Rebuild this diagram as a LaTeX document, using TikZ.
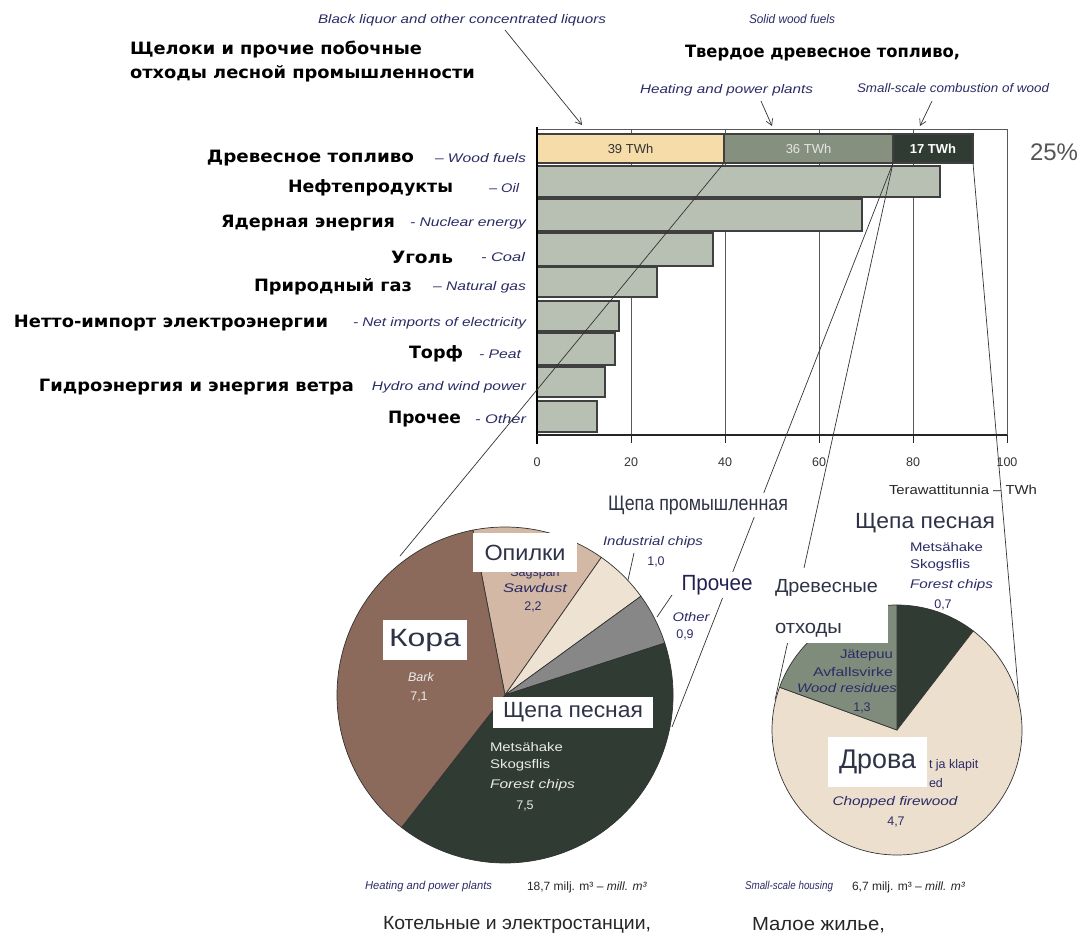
\documentclass[tikz,border=0pt]{standalone}
\usepackage{fontspec}
\usepackage{graphicx}
\usetikzlibrary{arrows.meta}
\setmainfont{Liberation Sans}
\newfontfamily\dvs{DejaVu Sans}
\newcommand\fs[1]{\fontsize{#1}{#1}\selectfont}
\newcommand\fw[2]{\resizebox{#1pt}{\height}{#2}}
\definecolor{nv}{HTML}{2B2B66}
\definecolor{tanc}{HTML}{F5DCA8}
\definecolor{sage}{HTML}{85907F}
\definecolor{dkg}{HTML}{2F3B33}
\definecolor{barc}{HTML}{B7C0B3}
\definecolor{barkc}{HTML}{8B6A5B}
\definecolor{sawc}{HTML}{D2B8A5}
\definecolor{indc}{HTML}{EEE2D3}
\definecolor{othc}{HTML}{878787}
\definecolor{firec}{HTML}{ECDFCE}
\definecolor{resc}{HTML}{7F8C7C}
\definecolor{lab}{HTML}{2E3346}
\definecolor{pct}{HTML}{555555}
\begin{document}
\begin{tikzpicture}[x=1pt,y=-1pt,
 every node/.style={inner sep=0pt,outer sep=0pt},
 ru/.style={font=\dvs\bfseries\fs{17}, anchor=east},
 ruw/.style={font=\dvs\bfseries\fs{17}, anchor=west},
 en/.style={font=\itshape\fs{12.5}, text=nv, anchor=east},
 enw/.style={font=\itshape\fs{12.5}, text=nv, anchor=west},
 seg/.style={draw=black!75, line width=1.1pt, minimum height=29pt, anchor=north west, font=\fs{13}},
 bar/.style={fill=barc, draw=black!75, line width=1.1pt},
 gridl/.style={draw=black!65, line width=0.8pt},
 conn/.style={draw=black!80, line width=0.7pt},
 arr/.style={draw=black!80, line width=0.7pt, -{Straight Barb[length=6pt,width=7pt]}},
 wbox/.style={fill=white, font=\fs{22}, text=lab},
 pl/.style={font=\fs{12.5}, text=nv},
 pli/.style={font=\itshape\fs{12.5}, text=nv},
 plw/.style={font=\fs{12.5}, text=white!92!black},
 pliw/.style={font=\itshape\fs{12.5}, text=white!92!black},
 axn/.style={font=\fs{12.5}, text=black!80},
 sl/.style={draw=black!80, line width=0.7pt}
]
\useasboundingbox (0,0) rectangle (1087,947);

% ---------- plot frame and grid
\draw[gridl] (537,129) -- (1007,129) -- (1007,442);
\foreach \x in {631,725,819,913} \draw[gridl] (\x,129) -- (\x,442);

% ---------- stacked wood fuel bar
\node[seg, fill=tanc, minimum width=187pt, text=black!80] (s39) at (537,134) {39 TWh};
\node[seg, fill=sage, minimum width=169pt, text=white!90!black] (s36) at (s39.north east) {36 TWh};
\node[seg, fill=dkg, minimum width=80pt, text=white, font=\bfseries\fs{13}] (s17) at (s36.north east) {17 TWh};

% ---------- other bars
\foreach \e/\t/\b in {940/166/197, 862/199/231, 713/233/266, 657/267/297, 619/301/331, 615/333/365, 605/367/397, 597/401/432}
  \draw[bar] (537,\t) rectangle (\e,\b);

% ---------- axes
\draw[black, line width=1.6pt] (537,127) -- (537,444);
\draw[black!85, line width=1.2pt] (537,435) -- (1007,435);
\foreach \x in {631,725,819,913,1007} \draw[black!85, line width=1pt] (\x,435) -- (\x,443);
\node[axn] (t0) at (537,462) {0};
\node[axn] (t20) at (631,462) {20};
\node[axn] (t40) at (725,462) {40};
\node[axn] (t60) at (819,462) {60};
\node[axn] (t80) at (913,462) {80};
\node[axn] (t100) at (1007,462) {100};
\node[font=\fs{13}, text=black!85, anchor=west] (unit) at (889,490) {\fw{148}{Terawattitunnia – TWh}};
\node[font=\fs{24}, text=pct, anchor=west] (p25) at (1030,152) {25\%};

% ---------- row labels
\node[ru] (r1) at (414,158) {\fw{207}{Древесное топливо}};
\node[ru] (r2) at (453,188) {\fw{165}{Нефтепродукты}};
\node[ru] (r3) at (395,223) {\fw{174}{Ядерная энергия}};
\node[ru] (r4) at (453,257) {\fw{62}{Уголь}};
\node[ru] (r5) at (412,287) {\fw{158}{Природный газ}};
\node[ru] (r6) at (328,323) {\fw{314}{Нетто-импорт электроэнергии}};
\node[ru] (r7) at (463,354) {\fw{54}{Торф}};
\node[ru] (r8) at (354,387) {\fw{315}{Гидроэнергия и энергия ветра}};
\node[ru] (r9) at (461,419) {\fw{73}{Прочее}};
\node[en] (e1) at (526,158) {\fw{91}{– Wood fuels}};
\node[en] (e2) at (519,188) {\fw{30}{– Oil}};
\node[en] (e3) at (526,223) {\fw{116}{- Nuclear energy}};
\node[en] (e4) at (525,257) {\fw{44}{- Coal}};
\node[en] (e5) at (526,287) {\fw{93}{– Natural gas}};
\node[en] (e6) at (526,323) {\fw{173}{- Net imports of electricity}};
\node[en] (e7) at (521,354) {\fw{42}{- Peat}};
\node[en] (e8) at (526,387) {\fw{154}{Hydro and wind power}};
\node[en] (e9) at (526,419) {\fw{51}{- Other}};

% ---------- top titles
\node[enw] (bl) at (318,20) {\fw{288}{Black liquor and other concentrated liquors}};
\node[enw] (sw) at (749,19) {\fw{86}{Solid wood fuels}};
\node[ruw] (ru1) at (130,50) {\fw{292}{Щелоки и прочие побочные}};
\node[ruw] (ru2) at (130,74) {\fw{345}{отходы лесной промышленности}};
\node[ruw] (tv) at (685,53) {\fw{275}{Твердое древесное топливо,}};
\node[enw] (hp) at (640,90) {\fw{173}{Heating and power plants}};
\node[enw] (sc) at (857,88) {\fw{192}{Small-scale combustion of wood}};
\coordinate (ar1a) at (505,30); \coordinate (ar1b) at (582,125);
\coordinate (ar2a) at (761,101); \coordinate (ar2b) at (772,126);
\coordinate (ar3a) at (932,101); \coordinate (ar3b) at (920,126);
\draw[arr] (ar1a) -- (ar1b);
\draw[arr] (ar2a) -- (ar2b);
\draw[arr] (ar3a) -- (ar3b);

% ---------- connectors from bar to pies
\coordinate (aL) at (400,556);
\coordinate (bL) at (672,727);
\coordinate (cR) at (775,700);
\coordinate (dR) at (1019,700);
\draw[conn] (s36.south west) -- (aL);
\draw[conn] (s36.south east) -- (bL);
\draw[conn] (s17.south west) -- (cR);
\draw[conn] (s17.south east) -- (dR);

% ---------- left pie
\coordinate (pcL) at (505,695);
\filldraw[sl, fill=sawc] (pcL) -- ++(-101:168) arc[start angle=-101, end angle=-55, radius=168] -- cycle;
\filldraw[sl, fill=indc] (pcL) -- ++(-55:168) arc[start angle=-55, end angle=-36, radius=168] -- cycle;
\filldraw[sl, fill=othc] (pcL) -- ++(-36:168) arc[start angle=-36, end angle=-18, radius=168] -- cycle;
\filldraw[sl, fill=dkg] (pcL) -- ++(-18:168) arc[start angle=-18, end angle=128, radius=168] -- cycle;
\filldraw[sl, fill=barkc] (pcL) -- ++(128:168) arc[start angle=128, end angle=259, radius=168] -- cycle;

% ---------- right pie
\coordinate (pcR) at (897,730);
\filldraw[sl, fill=dkg] (pcR) -- ++(-90:125) arc[start angle=-90, end angle=-52.4, radius=125] -- cycle;
\filldraw[sl, fill=firec] (pcR) -- ++(-52.4:125) arc[start angle=-52.4, end angle=200, radius=125] -- cycle;
\filldraw[sl, fill=resc] (pcR) -- ++(200:125) arc[start angle=200, end angle=270, radius=125] -- cycle;

% ---------- left pie labels
\node[pl] (sag) at (535,573) {Sågspån};
\node[wbox, minimum width=104pt, minimum height=39pt] (opil) at (525,552.5) {\fw{81}{Опилки}};
\node[pli] (sawd) at (535,588) {\fw{64}{Sawdust}};
\node[pl] (v22) at (533,607) {2,2};
\node[pli] (indl) at (653,542) {\fw{100}{Industrial chips}};
\node[pl] (v10) at (656,562) {1,0};
\coordinate (ld1a) at (634,553); \coordinate (ld1b) at (628,580);
\draw[conn] (ld1a) -- (ld1b);
\node[wbox, inner sep=3pt, font=\fs{21}] (ind) at (698,505) {\fw{180}{Щепа промышленная}};
\node[wbox, inner sep=3pt, font=\fs{22}, text=nv!80!black] (proch) at (717,585) {\fw{71}{Прочее}};
\node[pli] (othl) at (691,617) {\fw{37}{Other}};
\node[pl] (v09) at (685,635) {0,9};
\coordinate (ld2a) at (672,595); \coordinate (ld2b) at (657,617);
\draw[conn] (ld2a) -- (ld2b);
\node[wbox, minimum width=84pt, minimum height=40pt, font=\fs{25}] (kora) at (425,640) {\fw{72}{Кора}};
\node[pliw] (barkl) at (421,677) {Bark};
\node[plw] (v71) at (419,697) {7,1};
\node[wbox, minimum width=160pt, minimum height=31pt] (fcL) at (573,712.5) {\fw{140}{Щепа песная}};
\node[plw, anchor=west] (m1) at (490,747) {\fw{73}{Metsähake}};
\node[plw, anchor=west] (m2) at (490,765) {\fw{60}{Skogsflis}};
\node[pliw, anchor=west] (m3) at (490,785) {\fw{85}{Forest chips}};
\node[plw] (v75) at (525,806) {7,5};

% ---------- right pie labels
\node[wbox, inner sep=3pt] (fcR) at (925,523) {\fw{140}{Щепа песная}};
\node[pl, anchor=west] (n1) at (910,547) {\fw{73}{Metsähake}};
\node[pl, anchor=west] (n2) at (910,565) {\fw{60}{Skogsflis}};
\node[pli, anchor=west] (n3) at (910,585) {\fw{83}{Forest chips}};
\node[pl] (v07) at (943,605) {0,7};
\fill[white] (765,568) rectangle (888,643);
\node[font=\fs{19}, text=lab, anchor=west] (dr1) at (775,588) {\fw{103}{Древесные}};
\node[font=\fs{19}, text=lab, anchor=west] (dr2) at (775,630) {\fw{67}{отходы}};
\node[pl, anchor=east] (j1) at (893,655) {\fw{53}{Jätepuu}};
\node[pl, anchor=east] (j2) at (893,672) {\fw{80}{Avfallsvirke}};
\node[pli, anchor=east] (j3) at (897,688) {\fw{100}{Wood residues}};
\node[pl] (v13) at (862,708) {1,3};
\node[wbox, minimum width=99pt, minimum height=50pt, font=\fs{27}] (drova) at (877.5,762) {\fw{77}{Дрова}};
\node[pl, anchor=west] (k1) at (929,765) {t ja klapit};
\node[pl, anchor=west] (k2) at (929,783) {ed};
\node[pli] (k3) at (895,802) {\fw{125}{Chopped firewood}};
\node[pl] (v47) at (896,822) {4,7};

% ---------- bottom captions
\node[enw, font=\itshape\fs{11.5}] (bh) at (365,887) {\fw{127}{Heating and power plants}};
\node[font=\fs{12}, anchor=west, text=black!85] (bv1) at (527,887) {18,7 milj. m³ – \textit{mill. m³}};
\node[enw, font=\itshape\fs{11.5}] (bs) at (745,887) {\fw{88}{Small-scale housing}};
\node[font=\fs{12}, anchor=west, text=black!85] (bv2) at (852,887) {6,7 milj. m³ – \textit{mill. m³}};
\node[font=\fs{19}, anchor=west, text=black!85] (kot) at (383,925) {\fw{268}{Котельные и электростанции,}};
\node[font=\fs{19}, anchor=west, text=black!85] (mal) at (752,925) {\fw{133}{Малое жилье,}};
\end{tikzpicture}
\end{document}
